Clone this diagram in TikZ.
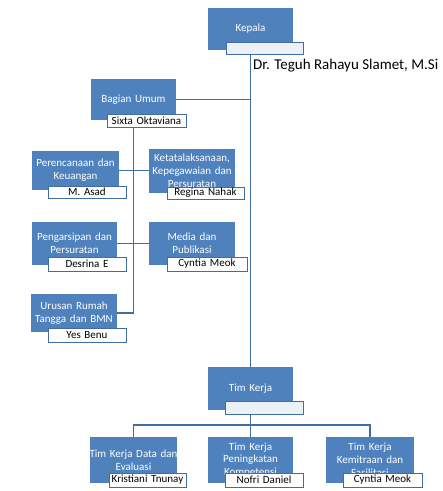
\documentclass[tikz,border=0pt]{standalone}
\usepackage{fontspec}
\setmainfont{Carlito}
\pgfdeclarelayer{bg}
\pgfsetlayers{bg,main}
\definecolor{boxblue}{RGB}{79,129,189}
\definecolor{lineblue}{RGB}{65,110,160}
\definecolor{paleblue}{RGB}{236,241,248}
\tikzset{
  unitbox/.style={fill=boxblue, draw=none, text=white, inner sep=0pt, align=center,
    font=\fontsize{11}{12.8}\selectfont},
  namebox/.style={fill=white, draw=lineblue, line width=0.9pt, text=black, inner sep=0pt,
    align=center, font=\fontsize{11}{12.8}\selectfont},
  palebox/.style={namebox, fill=paleblue},
  conn/.style={draw=lineblue, line width=1.5pt},
}
\newcommand\bx[7]{%
  \node[#6, minimum width={#4pt-#2pt}, minimum height={#5pt-#3pt}, text width={#4pt-#2pt-1pt}]
    (#1) at ({(#2+#4)/2},{(#3+#5)/2}) {#7};}
\begin{document}
\begin{tikzpicture}[x=1pt,y=-1pt]
\useasboundingbox (0,0) rectangle (443,491);
% head
\bx{kepala}{208}{8}{293}{50}{unitbox}{Kepala}
\bx{kepalaN}{226}{42}{303}{54}{palebox}{}
\node[anchor=west, font=\fontsize{15}{18}\selectfont, inner sep=0pt] (kname) at (253,66) {Dr. Teguh Rahayu Slamet, M.Si};
% bagian umum
\bx{bu}{91}{79}{176}{120}{unitbox}{Bagian Umum}
\bx{buN}{107}{114}{186}{127}{namebox}{Sixta Oktaviana}
% row 1
\bx{p1}{32}{151}{119}{190}{unitbox}{Perencanaan dan\\Keuangan}
\bx{p1N}{48}{186}{126}{198}{namebox}{M. Asad}
\bx{k1}{149}{149}{235}{193}{unitbox}{Ketatalaksanaan,\\Kepegawaian dan\\Persuratan}
\bx{k1N}{167}{187}{244}{199}{namebox}{Regina Nahak}
% row 2
\bx{p2}{32}{222}{117}{265}{unitbox}{Pengarsipan dan\\Persuratan}
\bx{p2N}{48}{257}{126}{271}{namebox}{Desrina E}
\bx{m1}{149}{222}{235}{265}{unitbox}{Media dan\\Publikasi}
\bx{m1N}{167}{257}{247}{271}{namebox}{Cyntia Meok}
% row 3
\bx{u1}{31}{294}{117}{332}{unitbox}{Urusan Rumah\\Tangga dan BMN}
\bx{u1N}{48}{328}{126}{342}{namebox}{Yes Benu}
% tim kerja
\bx{tk}{208}{367}{293}{410}{unitbox}{Tim Kerja}
\bx{tkN}{225}{401}{303}{414}{palebox}{}
\bx{b1}{90}{437}{177}{483}{unitbox}{\makebox[0pt]{Tim Kerja Data dan}\\Evaluasi\\[4pt]}
\bx{b1N}{109}{473}{186}{487}{namebox}{Kristiani Tnunay}
\bx{b2}{208}{437}{293}{483}{unitbox}{Tim Kerja\\Peningkatan\\Kompetensi\\[2pt]}
\bx{b2N}{225}{473}{303}{487}{namebox}{Nofri Daniel}
\bx{b3}{326}{437}{414}{483}{unitbox}{Tim Kerja\\Kemitraan dan\\Fasilitasi\\[2pt]}
\bx{b3N}{343}{473}{422}{487}{namebox}{Cyntia Meok}
\coordinate (j) at (250.5,425);
\begin{pgfonlayer}{bg}
\fill[white] (0,0) rectangle (443,491);
\draw[conn] (kepala.south) -- (tk.north);
\draw[conn] (bu.east) -- (bu.east -| kepala.south);
\draw[conn] (bu.south) -- (bu.south |- u1.east) -- (u1.east);
\draw[conn] (p1.east) -- (p1.east -| k1.west);
\draw[conn] (p2.east) -- (p2.east -| m1.west);
\draw[conn] (tk.south) -- (j);
\draw[conn] (b1.north) -- (b1.north |- j) -- (b3.north |- j) -- (b3.north);
\draw[conn] (j) -- (b2.north);
\end{pgfonlayer}
\end{tikzpicture}
\end{document}
